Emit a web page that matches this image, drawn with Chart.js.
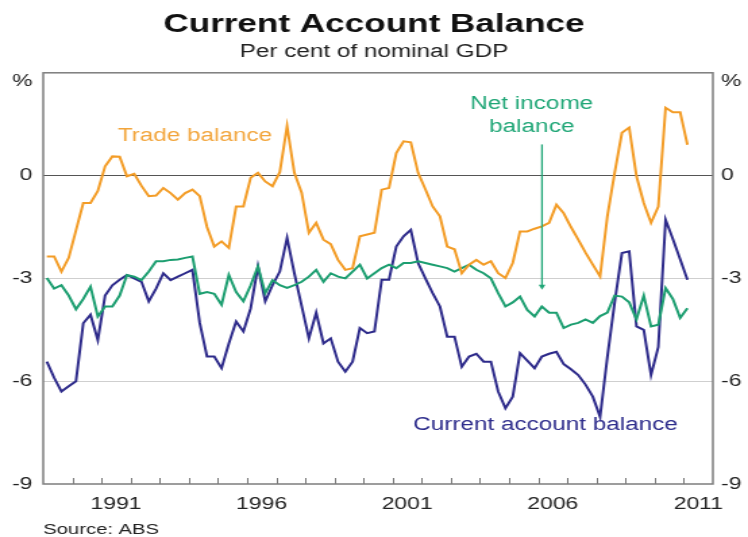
<!DOCTYPE html>
<html>
<head>
<meta charset="utf-8">
<script src="https://cdn.jsdelivr.net/npm/chart.js@4.4.1/dist/chart.umd.min.js"></script>
<style>
  html, body { margin: 0; padding: 0; background: #fff; }
  #cab { display: block; }
</style>
</head>
<body>
<!-- the reference is stretched sideways, so the canvas is drawn narrow and widened by css -->
<canvas id="cab" width="554" height="537" style="width:748px;height:537px"></canvas>
<script>
// quarterly, March quarter 1989 to March quarter 2011, per cent of GDP
var firstYear = 1989;

var tradeBalance = [
  -2.36, -2.36, -2.8, -2.4, -1.6, -0.8, -0.8, -0.45, 0.27, 0.56,
  0.55, -0.02, 0.05, -0.3, -0.6, -0.58, -0.36, -0.51, -0.7, -0.51,
  -0.41, -0.6, -1.5, -2.07, -1.92, -2.11, -0.9, -0.9, -0.06, 0.08,
  -0.17, -0.31, 0.1, 1.44, 0.08, -0.5, -1.67, -1.38, -1.87, -2.0,
  -2.46, -2.75, -2.7, -1.77, -1.72, -1.67, -0.41, -0.36, 0.66, 1.0,
  0.97, 0.08, -0.4, -0.9, -1.19, -2.07, -2.15, -2.85, -2.6, -2.46,
  -2.6, -2.5, -2.85, -2.99, -2.55, -1.63, -1.63, -1.55, -1.48, -1.38,
  -0.85, -1.1, -1.5, -1.87, -2.25, -2.6, -2.94, -1.19, 0.08, 1.25,
  1.4, -0.02, -0.8, -1.38, -0.9, 1.98, 1.85, 1.85, 0.9
];

var netIncome = [
  -2.99, -3.3, -3.2, -3.5, -3.9, -3.6, -3.24, -4.11, -3.82, -3.82,
  -3.5, -2.9, -2.95, -3.05, -2.8, -2.5, -2.5, -2.46, -2.45, -2.4,
  -2.36, -3.45, -3.4, -3.45, -3.77, -2.9, -3.4, -3.67, -3.2, -2.65,
  -3.43, -3.05, -3.2, -3.28, -3.2, -3.1, -2.95, -2.75, -3.1, -2.85,
  -2.95, -3.0, -2.8, -2.6, -3.0, -2.85, -2.7, -2.6, -2.7, -2.55,
  -2.55, -2.5, -2.55, -2.6, -2.65, -2.7, -2.8, -2.7, -2.6, -2.75,
  -2.85, -3.0, -3.43, -3.82, -3.7, -3.53, -3.92, -4.11, -3.82, -4.0,
  -4.0, -4.45, -4.35, -4.3, -4.2, -4.3, -4.1, -4.0, -3.5, -3.53,
  -3.7, -4.2, -3.5, -4.4, -4.35, -3.28, -3.6, -4.15, -3.87
];

var currentAccount = [
  -5.43, -5.9, -6.3, -6.15, -6.0, -4.31, -4.06, -4.8, -3.5, -3.2,
  -3.04, -2.9, -3.0, -3.1, -3.67, -3.3, -2.85, -3.05, -2.95, -2.85,
  -2.75, -4.3, -5.28, -5.28, -5.62, -4.9, -4.26, -4.55, -3.87, -2.65,
  -3.67, -3.2, -2.8, -1.82, -2.85, -3.8, -4.75, -4.0, -4.9, -4.75,
  -5.43, -5.72, -5.43, -4.45, -4.6, -4.55, -3.04, -3.04, -2.07, -1.77,
  -1.58, -2.55, -3.0, -3.43, -3.82, -4.7, -4.7, -5.58, -5.28, -5.2,
  -5.43, -5.43, -6.3, -6.79, -6.45, -5.18, -5.4, -5.62, -5.28, -5.2,
  -5.14, -5.5, -5.65, -5.82, -6.1, -6.45, -7.04, -5.3, -3.7, -2.26,
  -2.21, -4.4, -4.5, -5.82, -5.0, -1.29, -1.85, -2.44, -3.04
];

var yearLabels = [1991, 1996, 2001, 2006, 2011];
var yTicks = [-9, -6, -3, 0, 2.75];   // 2.75 carries the "%" unit label

// each quarter is plotted at its middle
var quarters = [];
for (var i = 0; i < currentAccount.length; i++) {
  quarters.push(firstYear + Math.floor(i / 4) + (i % 4) * 0.25 + 0.125);
}
function pts(vals) {
  return vals.map(function (v, i) { return { x: quarters[i], y: v }; });
}

var FONT = "'Liberation Sans', Arial, Helvetica, sans-serif";
Chart.defaults.font.family = FONT;
Chart.defaults.color = '#222';

function yTickLabel(v) { return v === 2.75 ? '%' : String(v); }
function setYTicks(s) { s.ticks = yTicks.map(function (v) { return { value: v }; }); }

var frame = {
  id: 'frame',
  afterDatasetsDraw: function (c) {
    var a = c.chartArea, x = c.scales.x, y = c.scales.y, g = c.ctx;
    g.save();

    // small year marks standing on the bottom axis
    g.strokeStyle = '#777';
    g.lineWidth = 1;
    for (var yr = 1990; yr <= 2011; yr++) {
      var px = Math.round(x.getPixelForValue(yr)) + 0.5;
      g.beginPath();
      g.moveTo(px, a.bottom);
      g.lineTo(px, a.bottom - 6);
      g.stroke();
    }

    g.strokeStyle = '#7d7d7d';
    g.lineWidth = 1.5;
    g.strokeRect(a.left, a.top, a.right - a.left, a.bottom - a.top);

    // series labels
    g.font = '18px ' + FONT;
    g.textBaseline = 'alphabetic';
    g.textAlign = 'left';
    g.fillStyle = '#F2A53C';
    g.fillText('Trade balance', x.getPixelForValue(1991.56), y.getPixelForValue(1.02));

    g.fillStyle = '#2E2D8C';
    g.fillText('Current account balance', x.getPixelForValue(2001.7), y.getPixelForValue(-7.42));

    g.fillStyle = '#1FA676';
    g.textAlign = 'center';
    g.fillText('Net income', x.getPixelForValue(2005.78), y.getPixelForValue(1.93));
    g.fillText('balance', x.getPixelForValue(2005.78), y.getPixelForValue(1.26));

    // arrow to the net income line
    var ax = x.getPixelForValue(2006.13);
    var ay0 = y.getPixelForValue(0.91), ay1 = y.getPixelForValue(-3.33);
    g.strokeStyle = '#1FA676';
    g.lineWidth = 1.3;
    g.beginPath();
    g.moveTo(ax, ay0);
    g.lineTo(ax, ay1 - 3);
    g.stroke();
    g.beginPath();
    g.moveTo(ax - 2.5, ay1 - 5);
    g.lineTo(ax + 2.5, ay1 - 5);
    g.lineTo(ax, ay1);
    g.closePath();
    g.fill();

    g.fillStyle = '#222';
    g.textAlign = 'left';
    g.font = '15px ' + FONT;
    g.fillText('Source: ABS', a.left, c.height - 3);
    g.restore();
  }
};

var ctx = document.getElementById('cab').getContext('2d');
var chart = new Chart(ctx, {
  type: 'line',
  data: {
    datasets: [
      { label: 'Trade balance', data: pts(tradeBalance), borderColor: '#F39C26', borderWidth: 2, pointRadius: 0, tension: 0 },
      { label: 'Net income balance', data: pts(netIncome), borderColor: '#1C9E70', borderWidth: 2, pointRadius: 0, tension: 0 },
      { label: 'Current account balance', data: pts(currentAccount), borderColor: '#2D2A8A', borderWidth: 2, pointRadius: 0, tension: 0 }
    ]
  },
  options: {
    responsive: false,
    animation: false,
    devicePixelRatio: 1,
    layout: { padding: 0 },
    plugins: {
      legend: { display: false },
      tooltip: { enabled: false },
      title: {
        display: true, text: 'Current Account Balance', color: '#111',
        font: { size: 26, weight: 'bold' }, padding: { top: 9, bottom: 0 }
      },
      subtitle: {
        display: true, text: 'Per cent of nominal GDP', color: '#222',
        font: { size: 18 }, padding: { top: 1, bottom: 10 }
      }
    },
    scales: {
      x: {
        type: 'linear', min: firstYear, max: 2012,
        afterBuildTicks: function (s) {
          s.ticks = yearLabels.map(function (v) { return { value: v + 0.5 }; });
        },
        afterFit: function (s) { s.height = 53; },
        ticks: {
          callback: function (v) { return String(Math.floor(v)); },
          font: { size: 17 }, color: '#222', padding: 10, maxRotation: 0, autoSkip: false
        },
        grid: { display: false, drawTicks: false },
        border: { display: false }
      },
      y: {
        position: 'left', min: -9, max: 3,
        afterBuildTicks: setYTicks,
        afterFit: function (s) { s.width = 32; },
        ticks: { callback: yTickLabel, font: { size: 17 }, color: '#222', padding: 8 },
        grid: {
          drawTicks: false, lineWidth: 1,
          color: function (c) {
            if (c.tick.value === 0) return '#555';
            if (c.tick.value === -3 || c.tick.value === -6) return '#cfcfcf';
            return 'rgba(0,0,0,0)';
          }
        },
        border: { display: false }
      },
      y2: {
        position: 'right', min: -9, max: 3,
        afterBuildTicks: setYTicks,
        afterFit: function (s) { s.width = 26; },
        ticks: { callback: yTickLabel, font: { size: 17 }, color: '#222', padding: 6 },
        grid: { display: false, drawTicks: false },
        border: { display: false }
      }
    }
  },
  plugins: [frame]
});
</script>
</body>
</html>
